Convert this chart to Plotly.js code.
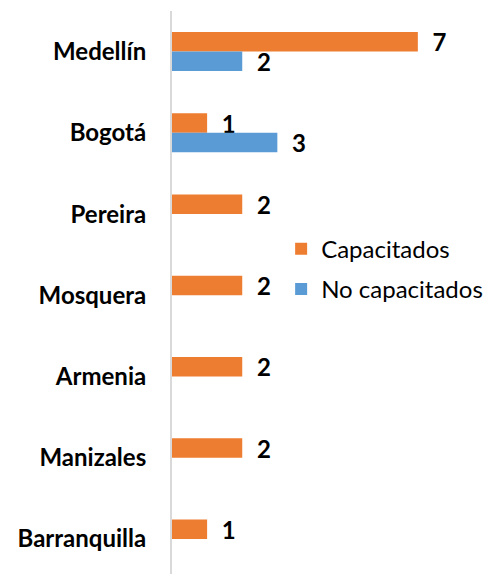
<!DOCTYPE html>
<html>
<head>
<meta charset="utf-8">
<script src="https://cdn.plot.ly/plotly-3.0.1.min.js"></script>
<style>html,body{margin:0;padding:0;background:#fff;}#chart{width:493px;height:574px;}</style>
</head>
<body>
<div id="chart"></div>
<script>
const cities = ["Medellín", "Bogotá", "Pereira", "Mosquera", "Armenia", "Manizales", "Barranquilla"];
const capacitados = [7, 1, 2, 2, 2, 2, 1];
const noCapacitados = [2, 3, null, null, null, null, null];
const seriesNames = ["Capacitados", "No capacitados"];
const seriesColors = ["#ED7D31", "#5B9BD5"];

function labels(vals) {
  return vals.map(v => (v === null || v === undefined) ? "" : "\u00a0\u00a0" + v);
}

const font = "Lato, 'Open Sans', sans-serif";

const traces = [capacitados, noCapacitados].map((vals, i) => ({
  type: "bar",
  orientation: "h",
  name: seriesNames[i],
  legendgroup: "g" + i,
  y: cities,
  x: vals,
  marker: {color: seriesColors[i]},
  text: labels(vals),
  textposition: "outside",
  constraintext: "none",
  cliponaxis: false,
  textfont: {family: font, size: 24, color: "#000", weight: "bold"},
  hoverinfo: "skip"
}));

const layout = {
  width: 493, height: 574,
  margin: {l: 172, r: 0, t: 11, b: 0},
  paper_bgcolor: "#fff", plot_bgcolor: "#fff",
  barmode: "group",
  bargap: 0.52,
  bargroupgap: 0,
  font: {family: font, color: "#000"},
  xaxis: {range: [0, 9.14], showgrid: false, zeroline: false, showticklabels: false, showline: false, fixedrange: true},
  yaxis: {
    type: "category",
    range: [6.43, -0.5],
    showgrid: false, zeroline: false,
    showline: true, linecolor: "#d9d9d9", linewidth: 2,
    ticks: "", ticklabelstandoff: 19,
    tickfont: {family: font, size: 24, color: "#000", weight: "bold"}
  },
  showlegend: true,
  legend: {
    x: 0.34, y: 0.617, xanchor: "left", yanchor: "top",
    traceorder: "grouped", tracegroupgap: 6,
    font: {family: font, size: 24, color: "#000"},
    bgcolor: "rgba(0,0,0,0)"
  }
};

Plotly.newPlot("chart", traces, layout, {displayModeBar: false, staticPlot: true});
</script>
</body>
</html>
